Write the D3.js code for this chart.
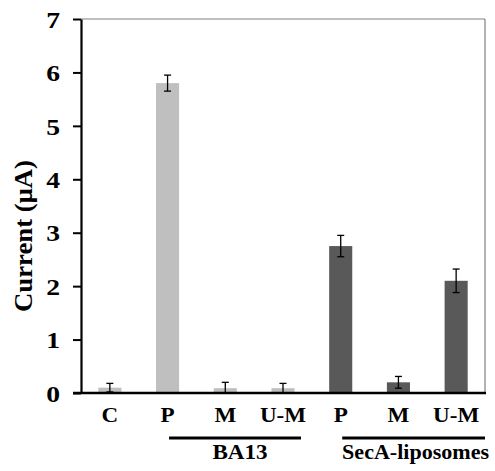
<!DOCTYPE html>
<html><head><meta charset="utf-8">
<script src="https://cdn.jsdelivr.net/npm/d3@7"></script>
<style>body{margin:0;background:#fff}svg{display:block}</style>
</head><body>
<script>
const categories = ["C","P","M","U-M","P","M","U-M"];
const values = [0.10, 5.80, 0.09, 0.09, 2.75, 0.20, 2.10];
const errors = [0.08, 0.15, 0.11, 0.09, 0.20, 0.11, 0.22];
const groups = ["ctrl","BA13","BA13","BA13","SecA","SecA","SecA"];
const groupNames = ["BA13","SecA-liposomes"];
const groupFrom = [1,4];
const groupTo = [3,6];
const yTicks = [0,1,2,3,4,5,6,7];

const W=495,H=471;
const m={l:81,r:10,t:19,b:78};
const svg=d3.select("body").append("svg").attr("width",W).attr("height",H);
const x=d3.scaleBand().domain(d3.range(categories.length)).range([m.l,W-m.r]).paddingInner(0.6).paddingOuter(0.3);
const y=d3.scaleLinear().domain([0,7]).range([H-m.b,m.t]);
const font="Liberation Serif";
const colors={ctrl:"#bfbfbf",BA13:"#bfbfbf",SecA:"#595959"};
const rows=values.map((v,i)=>({i,v,e:errors[i],g:groups[i]}));

function stretch(sel,k){
  sel.each(function(){const L=this.getComputedTextLength();
    d3.select(this).attr("textLength",L*k).attr("lengthAdjust","spacingAndGlyphs");});
}

// frame top/right
svg.append("line").attr("x1",m.l).attr("x2",W-m.r).attr("y1",y(7)).attr("y2",y(7)).attr("stroke","#808080").attr("stroke-width",1.2);
svg.append("line").attr("x1",W-m.r).attr("x2",W-m.r).attr("y1",y(7)).attr("y2",y(0)).attr("stroke","#808080").attr("stroke-width",1.2);

// bars
svg.selectAll("rect.bar").data(rows).join("rect").attr("class","bar")
  .attr("x",d=>x(d.i)).attr("width",x.bandwidth())
  .attr("y",d=>y(d.v)).attr("height",d=>y(0)-y(d.v))
  .attr("fill",d=>colors[d.g]);

// error bars
const cx=d=>x(d.i)+x.bandwidth()/2;
const eb=svg.selectAll("g.err").data(rows).join("g").attr("class","err");
eb.append("line").attr("x1",cx).attr("x2",cx)
  .attr("y1",d=>y(d.v+d.e)).attr("y2",d=>y(Math.max(0,d.v-d.e))).attr("stroke","#000").attr("stroke-width",1.3);
eb.append("line").attr("x1",d=>cx(d)-3.5).attr("x2",d=>cx(d)+3.5)
  .attr("y1",d=>y(d.v+d.e)).attr("y2",d=>y(d.v+d.e)).attr("stroke","#000").attr("stroke-width",1.3);
eb.filter(d=>d.v-d.e>0).append("line").attr("x1",d=>cx(d)-3.5).attr("x2",d=>cx(d)+3.5)
  .attr("y1",d=>y(d.v-d.e)).attr("y2",d=>y(d.v-d.e)).attr("stroke","#000").attr("stroke-width",1.3);

// y axis
const ya=svg.append("g").attr("transform",`translate(${m.l},0)`)
  .call(d3.axisLeft(y).tickValues(yTicks).tickFormat(d3.format("d")).tickSize(8).tickPadding(13).tickSizeOuter(0));
ya.select(".domain").attr("stroke","#000").attr("stroke-width",2.2);
ya.selectAll(".tick line").attr("stroke","#000").attr("stroke-width",2);
ya.selectAll("text").style("font-family",font).style("font-weight","bold").style("font-size","24px").attr("fill","#000").attr("dy","0.34em");
stretch(ya.selectAll("text"),1.15);

// x axis
const xa=svg.append("g").attr("transform",`translate(0,${y(0)})`)
  .call(d3.axisBottom(x).tickFormat(i=>categories[i]).tickSize(0).tickPadding(14));
xa.select(".domain").attr("stroke","#000").attr("stroke-width",2.6).attr("d",`M${m.l-8},0H${W-m.r+1}`);
xa.selectAll("text").style("font-family",font).style("font-weight","bold").style("font-size","21px").attr("fill","#000");
stretch(xa.selectAll("text"),1.1);

// group lines and labels
groupNames.forEach((name,k)=>{
  const x1=x(groupFrom[k])+x.bandwidth()/2+1.5;
  const x2=k===0?x(groupTo[k])+x.bandwidth()/2+18:W-m.r;
  svg.append("line").attr("x1",x1).attr("x2",x2).attr("y1",438).attr("y2",438).attr("stroke","#000").attr("stroke-width",3);
  const t=svg.append("text").attr("x",k===0?(x1+x2)/2+5:(x1+x2)/2+2).attr("y",459).attr("text-anchor","middle")
    .style("font-family",font).style("font-weight","bold").style("font-size","21px").text(name);
  stretch(t,k===0?1.1:1.05);
});

// y title
const tt=svg.append("text").attr("transform",`translate(32,${(y(0)+y(7))/2+30}) rotate(-90)`).attr("text-anchor","middle")
  .style("font-family",font).style("font-weight","bold").style("font-size","26px").text("Current (μA)");
tt.attr("textLength",152).attr("lengthAdjust","spacingAndGlyphs");
</script>
</body></html>
